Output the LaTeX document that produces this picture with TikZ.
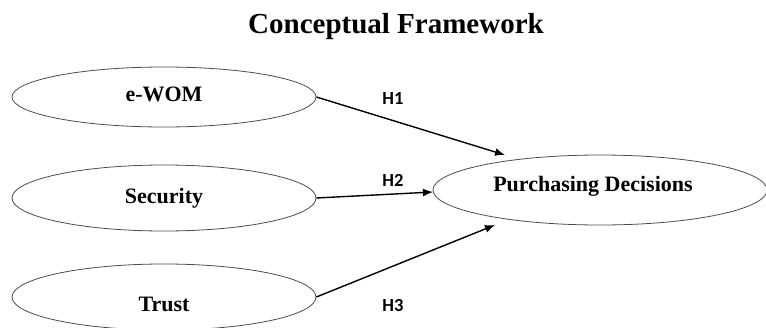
\documentclass[tikz,border=0pt]{standalone}
\usepackage{fontspec}
\setmainfont{Liberation Serif}
\newfontfamily\lblfont{Carlito}
\usetikzlibrary{shapes.geometric,arrows.meta}
\begin{document}
\begin{tikzpicture}[x=1pt,y=-1pt,
  construct/.style={draw=black!70,line width=0.8pt,ellipse,inner sep=0pt},
  ctext/.style={font=\fontsize{22}{24}\selectfont\bfseries,inner sep=0pt,anchor=base},
  hlabel/.style={font=\lblfont\fontsize{18.5}{20}\selectfont\bfseries,inner sep=0pt},
  path/.style={line width=1.4pt,-{Latex[length=10pt,width=8pt]}}]
\useasboundingbox (0,0) rectangle (766,327);
\clip (0,0) rectangle (766,327);
\node[font=\fontsize{29}{32}\selectfont\bfseries,inner sep=0pt,anchor=base] (title) at (396,33) {Conceptual Framework};
\node[construct,minimum width=304pt,minimum height=60pt] (ewom) at (164,97) {};
\node[construct,minimum width=304pt,minimum height=66pt] (sec) at (164,198) {};
\node[construct,minimum width=304pt,minimum height=66pt] (trust) at (164,297) {};
\node[construct,minimum width=334pt,minimum height=70pt] (pd) at (600,190) {};
\node[ctext] (ewomt) at (164,101) {e-WOM};
\node[ctext] (sect) at (164,203) {Security};
\node[ctext] (trustt) at (164,311) {Trust};
\node[ctext] (pdt) at (593,191) {Purchasing Decisions};
\coordinate (t1) at (505,155);
\coordinate (t2) at (433,192);
\coordinate (t3) at (495,225);
\draw[path] (ewom.east) -- (t1);
\draw[path] (sec.east) -- (t2);
\draw[path] (trust.east) -- (t3);
\node[hlabel] (h1) at (393,98) {H1};
\node[hlabel] (h2) at (393,180) {H2};
\node[hlabel] (h3) at (393,305) {H3};
\end{tikzpicture}
\end{document}
